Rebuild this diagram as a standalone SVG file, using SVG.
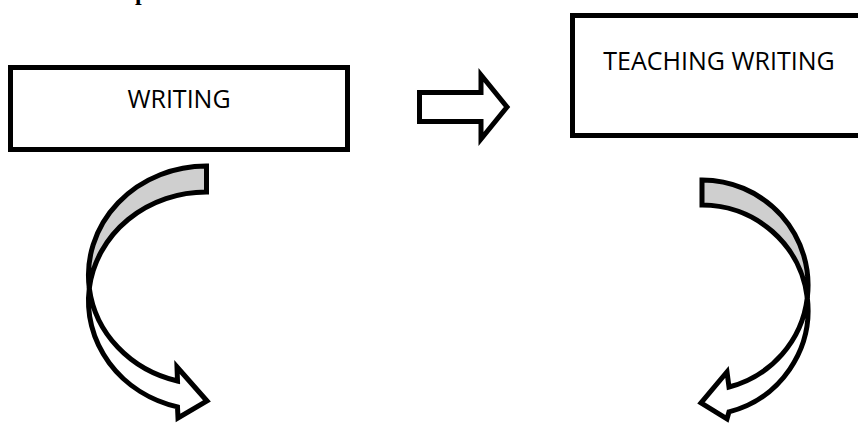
<svg xmlns="http://www.w3.org/2000/svg" width="858" height="425" viewBox="0 0 858 425">
  <style>
    .box { fill: #ffffff; stroke: #000000; stroke-width: 5; }
    .lbl { font-family: "Open Sans", "Liberation Sans", sans-serif; font-size: 25px; fill: #000000; }
    .arr { fill: #ffffff; stroke: #000000; stroke-width: 5; stroke-linejoin: miter; stroke-miterlimit: 10; }
    .back { fill: #cfcfcf; stroke: #000000; stroke-width: 5; stroke-linejoin: miter; }
    .head { font-family: "Liberation Serif", serif; font-weight: bold; font-size: 24px; fill: #000000; }
  </style>
  <rect x="0" y="0" width="858" height="425" fill="#ffffff"/>
  <text class="head" x="135" y="0">p</text>
  <g id="node-writing">
    <rect class="box" x="10.5" y="67.5" width="337" height="82"/>
    <text class="lbl" x="179" y="108" text-anchor="middle">WRITING</text>
  </g>
  <g id="node-teaching-writing">
    <rect class="box" x="572.5" y="15.5" width="300" height="120"/>
    <text class="lbl" x="719" y="70" text-anchor="middle">TEACHING WRITING</text>
  </g>
  <g id="connectors">
    <path class="arr" d="M419.5,92.5 H481 V75 L507,107 L481,139 V121.5 H419.5 Z"/>
    <g id="curve-left">
      <path class="back" d="M206.5,166 A118,109.2 0 0 0 89.3,288.2 A118,109.2 0 0 1 206.5,192 Z"/>
      <path class="arr" d="M89.3,288.2 A118,109.2 0 0 0 177.5,406.9 L178,418 L207,401 L177,367 L177.5,381 A118,109.2 0 0 1 89.3,288.2 Z"/>
    </g>
    <g id="curve-right">
      <path class="back" d="M702,180 A106,105.2 0 0 1 807.3,297.7 A106,105.2 0 0 0 702,205 Z"/>
      <path class="arr" d="M807.3,297.7 A106,105.2 0 0 1 729,411.9 L727,419 L701,403 L727,372 L729,387 A106,105.2 0 0 0 807.3,297.7 Z"/>
    </g>
  </g>
</svg>
